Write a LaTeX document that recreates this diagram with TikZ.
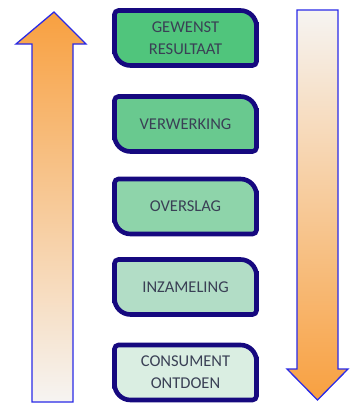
\documentclass[tikz,border=0pt]{standalone}
\usepackage{fontspec}
\setmainfont{Carlito}
\usepackage{xcolor}
\usepackage{tikz}
\usetikzlibrary{backgrounds}

\definecolor{stagea}{HTML}{50C57C}
\definecolor{stageb}{HTML}{69C98F}
\definecolor{stagec}{HTML}{8ED4AA}
\definecolor{staged}{HTML}{B2DDC6}
\definecolor{stagee}{HTML}{DAEEE2}
\definecolor{boxline}{HTML}{16097F}
\definecolor{stagetext}{HTML}{3A4055}
\definecolor{arrowline}{HTML}{2A2AE6}
\definecolor{arroworange}{HTML}{F8A040}
\definecolor{arrowpale}{HTML}{F6F4F2}

\begin{document}
\begin{tikzpicture}[x=1pt, y=-1pt,
    stage/.style={rectangle, draw=none, outer sep=0pt, minimum width=142pt, minimum height=55pt,
      align=center, text=stagetext, font=\fontsize{16.5}{22}\selectfont},
    stageframe/.style={draw=boxline, line width=4.6pt},
    bigarrow/.style={draw=arrowline, line width=1.3pt, line join=miter}]
  \useasboundingbox (0,0) rectangle (351,405);

  % steps
  \node[stage] (resultaat) at (185.5,38) {GEWENST\\RESULTAAT};
  \node[stage] (verwerking) at (185.5,124) {VERWERKING};
  \node[stage] (overslag) at (185.5,206.5) {OVERSLAG};
  \node[stage] (inzameling) at (185.5,287) {INZAMELING};
  \node[stage] (consument) at (185.5,372.5) {CONSUMENT\\ONTDOEN};

  \begin{scope}[on background layer]
    \foreach \n/\c in {resultaat/stagea, verwerking/stageb, overslag/stagec, inzameling/staged, consument/stagee}
      \draw[stageframe, fill=\c] (\n.west) [rounded corners=4pt] -- (\n.north west) -- (\n.north)
        [rounded corners=16pt] -- (\n.north east) -- (\n.east)
        [rounded corners=4pt] -- (\n.south east) -- (\n.south)
        [rounded corners=16pt] -- (\n.south west) -- cycle;
  \end{scope}

  % arrows
  \draw[bigarrow, top color=arroworange, bottom color=arrowpale]
    (32,402) -- (32,44) -- (16,44) -- (54,12) -- (86,44) -- (73,44) -- (73,402) -- cycle;
  \draw[bigarrow, top color=arrowpale, bottom color=arroworange]
    (297,10) -- (338,10) -- (338,369) -- (348,369) -- (317.5,400) -- (287,369) -- (297,369) -- cycle;
\end{tikzpicture}
\end{document}
